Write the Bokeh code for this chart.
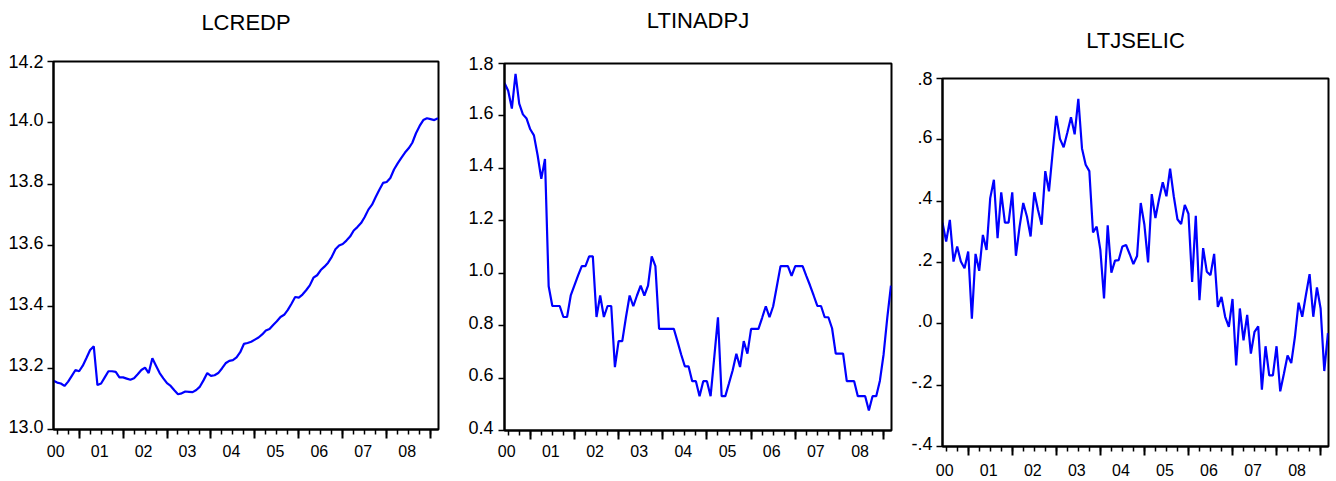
from bokeh.plotting import figure
from bokeh.models import LinearAxis, FixedTicker, Range1d
from bokeh.embed import file_html
from bokeh.resources import INLINE

# monthly observations, index 0..105
months = list(range(106))

lcredp = [13.159, 13.153, 13.150, 13.142, 13.156, 13.175, 13.194, 13.190, 13.208, 13.233,
          13.259, 13.271, 13.145, 13.150, 13.170, 13.190, 13.190, 13.188, 13.170, 13.170,
          13.166, 13.162, 13.167, 13.180, 13.194, 13.202, 13.184, 13.232, 13.208, 13.184,
          13.167, 13.151, 13.142, 13.128, 13.115, 13.118, 13.124, 13.123, 13.122, 13.129,
          13.140, 13.161, 13.184, 13.175, 13.177, 13.184, 13.199, 13.216, 13.224, 13.226,
          13.235, 13.252, 13.279, 13.282, 13.286, 13.293, 13.300, 13.310, 13.323, 13.328,
          13.341, 13.353, 13.367, 13.374, 13.390, 13.410, 13.432, 13.430, 13.440, 13.454,
          13.470, 13.495, 13.503, 13.520, 13.531, 13.544, 13.563, 13.588, 13.600, 13.605,
          13.616, 13.629, 13.649, 13.660, 13.673, 13.693, 13.717, 13.733, 13.758, 13.782,
          13.804, 13.807, 13.820, 13.848, 13.868, 13.886, 13.903, 13.917, 13.935, 13.966,
          13.990, 14.009, 14.015, 14.012, 14.009, 14.015]

ltinadpj = [1.726, 1.696, 1.628, 1.760, 1.647, 1.606, 1.590, 1.549, 1.526, 1.450,
            1.360, 1.436, 0.950, 0.875, 0.875, 0.875, 0.833, 0.833, 0.915, 0.954,
            0.992, 1.027, 1.027, 1.064, 1.064, 0.833, 0.915, 0.833, 0.875, 0.875,
            0.642, 0.741, 0.741, 0.832, 0.915, 0.874, 0.915, 0.953, 0.915, 0.953,
            1.064, 1.027, 0.788, 0.788, 0.788, 0.788, 0.788, 0.740, 0.690, 0.645,
            0.645, 0.588, 0.588, 0.531, 0.588, 0.588, 0.531, 0.680, 0.832, 0.531,
            0.531, 0.580, 0.630, 0.693, 0.642, 0.741, 0.693, 0.788, 0.788, 0.788,
            0.830, 0.874, 0.832, 0.874, 0.950, 1.027, 1.027, 1.027, 0.990, 1.027,
            1.027, 1.027, 0.990, 0.954, 0.915, 0.875, 0.875, 0.832, 0.832, 0.790,
            0.693, 0.693, 0.693, 0.588, 0.588, 0.588, 0.531, 0.531, 0.531, 0.476,
            0.531, 0.531, 0.590, 0.690, 0.830, 0.953]

ltjselic = [0.330, 0.268, 0.339, 0.203, 0.252, 0.203, 0.181, 0.236, 0.017, 0.228,
            0.173, 0.290, 0.241, 0.410, 0.470, 0.279, 0.429, 0.330, 0.330, 0.429,
            0.222, 0.317, 0.394, 0.350, 0.285, 0.429, 0.372, 0.323, 0.498, 0.432,
            0.558, 0.678, 0.603, 0.576, 0.623, 0.674, 0.618, 0.734, 0.572, 0.519,
            0.498, 0.298, 0.317, 0.241, 0.083, 0.321, 0.167, 0.206, 0.208, 0.252,
            0.257, 0.227, 0.195, 0.221, 0.394, 0.323, 0.200, 0.423, 0.345, 0.407,
            0.462, 0.416, 0.506, 0.416, 0.341, 0.325, 0.388, 0.359, 0.137, 0.352,
            0.077, 0.247, 0.170, 0.159, 0.228, 0.055, 0.088, 0.023, -0.010, 0.081,
            -0.136, 0.050, -0.054, 0.029, -0.097, -0.026, -0.008, -0.215, -0.073, -0.168,
            -0.168, -0.073, -0.220, -0.163, -0.103, -0.128, -0.043, 0.069, 0.023, 0.094,
            0.162, 0.023, 0.119, 0.050, -0.154, -0.030]

year_labels = ["00", "01", "02", "03", "04", "05", "06", "07", "08"]
year_label_pos = [0.6 + 12 * k for k in range(9)]
year_ticks = [7 + 12 * k for k in range(9)]
quarter_ticks = [1 + 3 * k for k in range(35)]

y1_ticks = [13.0, 13.2, 13.4, 13.6, 13.8, 14.0, 14.2]
y1_labels = ["13.0", "13.2", "13.4", "13.6", "13.8", "14.0", "14.2"]
y2_ticks = [0.4, 0.6, 0.8, 1.0, 1.2, 1.4, 1.6, 1.8]
y2_labels = ["0.4", "0.6", "0.8", "1.0", "1.2", "1.4", "1.6", "1.8"]
y3_ticks = [-0.4, -0.2, 0.0, 0.2, 0.4, 0.6, 0.8]
y3_labels = ["-.4", "-.2", ".0", ".2", ".4", ".6", ".8"]

FONT = "'Liberation Sans', Arial, sans-serif"
LABEL_RAISE_PX = 3.5


def make_panel(title, values, y_ticks, y_labels, width, bl, br, bt, bb,
               title_gap, xlab_gap, ylab_gap):
    height = 481
    frame_h = height - bt - bb
    y0, y1 = y_ticks[0], y_ticks[-1]
    p = figure(width=width, height=height,
               x_range=Range1d(0, 105.15), y_range=Range1d(y0, y1),
               x_axis_type=None, y_axis_type=None,
               toolbar_location=None, output_backend="svg",
               min_border_left=bl, min_border_right=br,
               min_border_top=bt, min_border_bottom=bb)
    p.outline_line_color = "black"
    p.outline_line_width = 2
    p.background_fill_color = "white"
    p.border_fill_color = "white"
    p.styles = {"float": "left"}

    # title drawn as the label of an empty axis above the frame
    ta = LinearAxis(ticker=FixedTicker(ticks=[], minor_ticks=[]),
                    major_tick_out=0, major_tick_in=0, minor_tick_out=0, minor_tick_in=0,
                    major_label_standoff=0, axis_line_color=None,
                    axis_label=title, axis_label_standoff=title_gap,
                    axis_label_text_font=FONT, axis_label_text_font_size="22px",
                    axis_label_text_font_style="normal", axis_label_text_color="black")
    p.add_layout(ta, "above")

    # tick marks along the date axis
    xt = LinearAxis(ticker=FixedTicker(ticks=year_ticks, minor_ticks=quarter_ticks),
                    major_label_overrides={t: "" for t in year_ticks},
                    major_label_text_font_size="0px", major_label_standoff=0,
                    major_tick_out=9, major_tick_in=0,
                    minor_tick_out=5, minor_tick_in=0,
                    axis_line_width=2, axis_line_color="black",
                    major_tick_line_width=2, minor_tick_line_width=1.5)
    p.add_layout(xt, "below")
    # year labels
    xl = LinearAxis(ticker=FixedTicker(ticks=year_label_pos, minor_ticks=[]),
                    major_label_overrides=dict(zip(year_label_pos, year_labels)),
                    major_tick_out=0, major_tick_in=0, minor_tick_out=0, minor_tick_in=0,
                    axis_line_color=None, major_tick_line_color=None,
                    major_label_standoff=xlab_gap, major_label_text_font=FONT,
                    major_label_text_font_size="16px", major_label_text_color="black")
    p.add_layout(xl, "below")

    # value ticks
    yt = LinearAxis(ticker=FixedTicker(ticks=y_ticks, minor_ticks=[]),
                    major_label_overrides={t: "" for t in y_ticks},
                    major_label_text_font_size="0px", major_label_standoff=0,
                    major_tick_out=6, major_tick_in=0, minor_tick_out=0, minor_tick_in=0,
                    axis_line_width=2, axis_line_color="black",
                    major_tick_line_width=1.5)
    p.add_layout(yt, "left")
    # value labels, drawn slightly above their tick marks (top one stays at the frame edge)
    shift = LABEL_RAISE_PX * (y1 - y0) / frame_h
    lab_pos = [min(t + shift, y1) for t in y_ticks]
    yl = LinearAxis(ticker=FixedTicker(ticks=lab_pos, minor_ticks=[]),
                    major_label_overrides=dict(zip(lab_pos, y_labels)),
                    major_tick_out=0, major_tick_in=0, minor_tick_out=0, minor_tick_in=0,
                    axis_line_color=None, major_tick_line_color=None,
                    major_label_standoff=ylab_gap, major_label_text_font=FONT,
                    major_label_text_font_size="18px", major_label_text_color="black")
    p.add_layout(yl, "left")

    p.line(months, values, line_color="#0000FF", line_width=2.2)
    return p


p1 = make_panel("LCREDP", lcredp, y1_ticks, y1_labels, 445, 53, 7, 61, 52, 27, 6, 4)
p2 = make_panel("LTINADPJ", ltinadpj, y2_ticks, y2_labels, 450, 59, 4, 63, 51, 31, 5, 5)
p3 = make_panel("LTJSELIC", ltjselic, y3_ticks, y3_labels, 441, 47, 8, 78, 35, 26, 8, 4)

open("out.html", "w").write(file_html([p1, p2, p3], INLINE))
